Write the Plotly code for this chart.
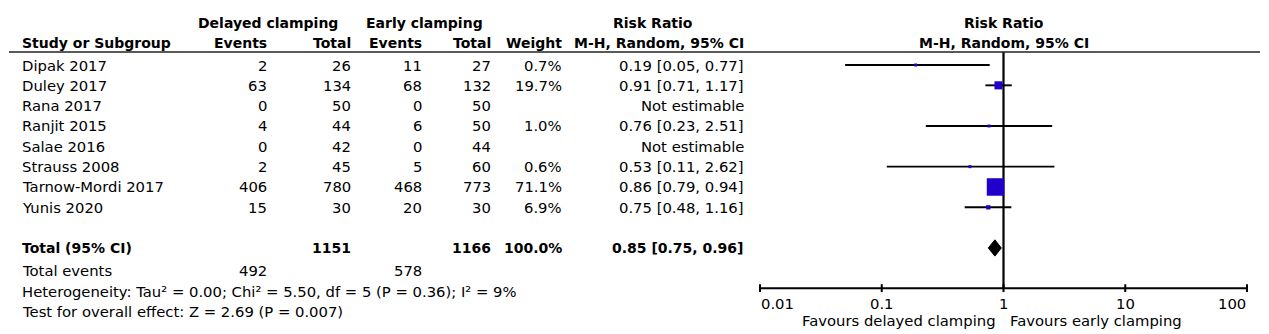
import numpy as np
import plotly.graph_objects as go

# ---------------- data ----------------
studies = ["Dipak 2017", "Duley 2017", "Rana 2017", "Ranjit 2015", "Salae 2016",
           "Strauss 2008", "Tarnow-Mordi 2017", "Yunis 2020"]
ev_delayed = [2, 63, 0, 4, 0, 2, 406, 15]
tot_delayed = [26, 134, 50, 44, 42, 45, 780, 30]
ev_early = [11, 68, 0, 6, 0, 5, 468, 20]
tot_early = [27, 132, 50, 50, 44, 60, 773, 30]
weight = [0.7, 19.7, None, 1.0, None, 0.6, 71.1, 6.9]
rr = [0.19, 0.91, None, 0.76, None, 0.53, 0.86, 0.75]
rr_lo = [0.05, 0.71, None, 0.23, None, 0.11, 0.79, 0.48]
rr_hi = [0.77, 1.17, None, 2.51, None, 2.62, 0.94, 1.16]

total_delayed = 1151
total_early = 1166
total_weight = 100.0
total_rr = 0.85
total_lo = 0.75
total_hi = 0.96
total_ev_delayed = 492
total_ev_early = 578
heterogeneity_text = "Heterogeneity: Tau² = 0.00; Chi² = 5.50, df = 5 (P = 0.36); I² = 9%"
overall_text = "Test for overall effect: Z = 2.69 (P = 0.007)"

tick_vals = [0.01, 0.1, 1, 10, 100]
tick_labels = ["0.01", "0.1", "1", "10", "100"]
null_value = 1
favours_left = "Favours delayed clamping"
favours_right = "Favours early clamping"

# ---------------- layout constants ----------------
W, H = 1269, 334
ROW0_PX = 65.0       # pixel y of first study row
ROWH = 20.33         # pixel per row
FONT = "DejaVu Sans"
FS = 14.8
FSB = 14
SQ_COLOR = "#2100cc"

# row positions (in row units)
ROW_HDR1 = -2.08
ROW_HDR2 = -1.07
ROW_LINE = -0.64
ROW_TOTAL = 9.0
ROW_TEV = 10.1
ROW_HET = 11.13
ROW_TEST = 12.12
ROW_AXIS = 10.98
ROW_TICKLAB = 11.72
ROW_FAV = 12.56

# column x positions (pixels)
X_STUDY = 21
X_EV1 = 268
X_TOT1 = 352
X_EV2 = 423
X_TOT2 = 492
X_WT = 563
X_RR = 745
X_GRP1 = 268
X_GRP2 = 424
X_RRHDR = 653

# forest axis pixel extent
AX_L, AX_R = 760.0, 1247.0
decade_px = (AX_R - AX_L) / 4.0
pad = 0.03
dom_l = (AX_L - pad * decade_px) / W
dom_r = (AX_R + pad * decade_px) / W
X_FOREST_HDR = (AX_L + AX_R) / 2 / W

y_top = -ROW0_PX / ROWH
y_bot = (H - ROW0_PX) / ROWH

fig = go.Figure()

rows = list(range(len(studies)))

# vertical null line
fig.add_trace(go.Scatter(x=[null_value, null_value], y=[ROW_LINE, ROW_AXIS], mode="lines",
                         line=dict(color="black", width=2.2), hoverinfo="skip"))

# CI lines
for i in rows:
    if rr[i] is None:
        continue
    fig.add_trace(go.Scatter(x=[rr_lo[i], rr_hi[i]], y=[i, i], mode="lines",
                             line=dict(color="black", width=1.9), hoverinfo="skip"))

# squares
sq_x = [rr[i] for i in rows if rr[i] is not None]
sq_y = [i for i in rows if rr[i] is not None]
sq_w = [weight[i] for i in rows if rr[i] is not None]
sq_size = [max(3.0, 17.5 * (w / max(sq_w)) ** 0.6) for w in sq_w]
fig.add_trace(go.Scatter(x=sq_x, y=sq_y, mode="markers",
                         marker=dict(symbol="square", size=sq_size, color=SQ_COLOR,
                                     opacity=1, line=dict(width=0)),
                         hoverinfo="skip"))

# diamond
dh = 0.4
fig.add_trace(go.Scatter(x=[total_lo, total_rr, total_hi, total_rr, total_lo],
                         y=[ROW_TOTAL, ROW_TOTAL - dh, ROW_TOTAL, ROW_TOTAL + dh, ROW_TOTAL],
                         mode="lines", fill="toself", fillcolor="black",
                         line=dict(color="black", width=1), hoverinfo="skip"))

# axis line and ticks
fig.add_trace(go.Scatter(x=[tick_vals[0], tick_vals[-1]], y=[ROW_AXIS, ROW_AXIS], mode="lines",
                         line=dict(color="black", width=2), hoverinfo="skip"))
tx, ty = [], []
for t in tick_vals:
    tx += [t, t, None]
    ty += [ROW_AXIS - 0.2, ROW_AXIS + 0.19, None]
fig.add_trace(go.Scatter(x=tx, y=ty, mode="lines", line=dict(color="black", width=2),
                         hoverinfo="skip"))

ann = []


def txt(x, y, s, anchor="left", bold=False, xref="paper", xshift=0, size=None):
    ann.append(dict(x=x / W if xref == "paper" else x, y=y, xref=xref, yref="y",
                    text=f"<b>{s}</b>" if bold else s, showarrow=False,
                    xanchor=anchor, yanchor="middle", xshift=xshift, borderpad=0,
                    font=dict(family=FONT, size=size or (FSB if bold else FS), color="black")))


# headers
txt(X_GRP1, ROW_HDR1, "Delayed clamping", "center", True)
txt(X_GRP2, ROW_HDR1, "Early clamping", "center", True)
txt(X_RRHDR, ROW_HDR1, "Risk Ratio", "center", True)
txt(X_STUDY, ROW_HDR2, "Study or Subgroup", "left", True)
txt(X_EV1, ROW_HDR2, "Events", "right", True)
txt(X_TOT1, ROW_HDR2, "Total", "right", True)
txt(X_EV2, ROW_HDR2, "Events", "right", True)
txt(X_TOT2, ROW_HDR2, "Total", "right", True)
txt(X_WT, ROW_HDR2, "Weight", "right", True)
txt(X_RR, ROW_HDR2, "M-H, Random, 95% CI", "right", True)
ann.append(dict(x=X_FOREST_HDR, y=ROW_HDR1, xref="paper", yref="y", text="<b>Risk Ratio</b>",
                showarrow=False, xanchor="center", yanchor="middle", borderpad=0,
                font=dict(family=FONT, size=FSB, color="black")))
ann.append(dict(x=X_FOREST_HDR, y=ROW_HDR2, xref="paper", yref="y",
                text="<b>M-H, Random, 95% CI</b>",
                showarrow=False, xanchor="center", yanchor="middle", borderpad=0,
                font=dict(family=FONT, size=FSB, color="black")))

# study rows
for i in rows:
    txt(X_STUDY, i, studies[i])
    txt(X_EV1, i, str(ev_delayed[i]), "right")
    txt(X_TOT1, i, str(tot_delayed[i]), "right")
    txt(X_EV2, i, str(ev_early[i]), "right")
    txt(X_TOT2, i, str(tot_early[i]), "right")
    if weight[i] is not None:
        txt(X_WT, i, f"{weight[i]:.1f}%", "right")
        txt(X_RR, i, f"{rr[i]:.2f} [{rr_lo[i]:.2f}, {rr_hi[i]:.2f}]", "right")
    else:
        txt(X_RR, i, "Not estimable", "right")

# totals
txt(X_STUDY, ROW_TOTAL, "Total (95% CI)", "left", True)
txt(X_TOT1, ROW_TOTAL, str(total_delayed), "right", True)
txt(X_TOT2, ROW_TOTAL, str(total_early), "right", True)
txt(X_WT, ROW_TOTAL, f"{total_weight:.1f}%", "right", True)
txt(X_RR, ROW_TOTAL, f"{total_rr:.2f} [{total_lo:.2f}, {total_hi:.2f}]", "right", True)
txt(X_STUDY, ROW_TEV, "Total events")
txt(X_EV1, ROW_TEV, str(total_ev_delayed), "right")
txt(X_EV2, ROW_TEV, str(total_ev_early), "right")
txt(X_STUDY, ROW_HET, heterogeneity_text)
txt(X_STUDY, ROW_TEST, overall_text)

# tick labels
for k, (t, lab) in enumerate(zip(tick_vals, tick_labels)):
    anchor = "left" if k == 0 else ("right" if k == len(tick_vals) - 1 else "center")
    txt(np.log10(t), ROW_TICKLAB, lab, anchor, xref="x")

# favours labels
txt(np.log10(null_value), ROW_FAV, favours_left, "right", xref="x", xshift=-6)
txt(np.log10(null_value), ROW_FAV, favours_right, "left", xref="x", xshift=6)

shapes = [dict(type="line", xref="paper", yref="y", x0=9 / W, x1=1260 / W,
               y0=ROW_LINE, y1=ROW_LINE, line=dict(color="#222222", width=1.6))]

fig.update_layout(
    width=W, height=H, margin=dict(l=0, r=0, t=0, b=0),
    paper_bgcolor="white", plot_bgcolor="white", showlegend=False,
    xaxis=dict(type="log", range=[np.log10(tick_vals[0]) - pad, np.log10(tick_vals[-1]) + pad],
               domain=[dom_l, dom_r], visible=False),
    yaxis=dict(range=[y_bot, y_top], domain=[0, 1], visible=False),
    annotations=ann, shapes=shapes,
)

fig.write_html("out.html")
